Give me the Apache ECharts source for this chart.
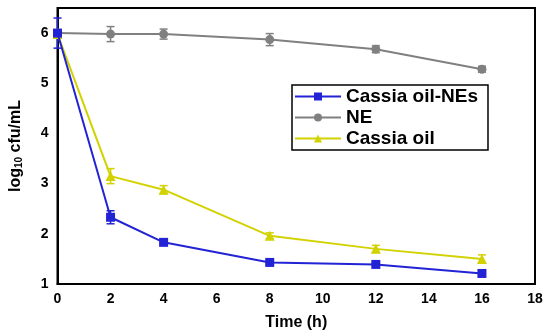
<!DOCTYPE html>
<html><head><meta charset="utf-8">
<script src="https://cdn.jsdelivr.net/npm/echarts@6/dist/echarts.min.js"></script>
<style>html,body{margin:0;padding:0;background:#fff}#c{width:550px;height:336px}</style>
</head><body><div id="c"></div>
<script>
const times = [0, 2, 4, 8, 12, 16];
const nesVals = [6.0, 2.33, 1.83, 1.43, 1.39, 1.21];
const nesErr = [0.3, 0.13, 0.04, 0.03, 0.03, 0.03];
const neVals = [6.0, 5.98, 5.98, 5.87, 5.68, 5.28];
const neErr = [0.05, 0.15, 0.1, 0.12, 0.07, 0.06];
const oilVals = [5.98, 3.15, 2.88, 1.96, 1.70, 1.50];
const oilErr = [0.05, 0.15, 0.08, 0.06, 0.07, 0.08];
const xTicks = [0, 2, 4, 6, 8, 10, 12, 14, 16, 18];
const yTicks = [1, 2, 3, 4, 5, 6];

const colors = {nes: '#2323d6', ne: '#808080', oil: '#d2d200'};

function pts(vals) { return times.map((t, i) => [t, vals[i]]); }
function errData(vals, errs) { return times.map((t, i) => [t, vals[i] - errs[i], vals[i] + errs[i]]); }
function errSeries(vals, errs, color) {
  return {
    type: 'custom', silent: true, z: 1,
    data: errData(vals, errs),
    renderItem: function (params, api) {
      const x = api.value(0);
      const lo = api.coord([x, api.value(1)]);
      const hi = api.coord([x, api.value(2)]);
      const w = 4;
      const st = {stroke: color, lineWidth: 1.5};
      return {type: 'group', children: [
        {type: 'line', shape: {x1: lo[0], y1: lo[1], x2: hi[0], y2: hi[1]}, style: st},
        {type: 'line', shape: {x1: lo[0] - w, y1: lo[1], x2: lo[0] + w, y2: lo[1]}, style: st},
        {type: 'line', shape: {x1: hi[0] - w, y1: hi[1], x2: hi[0] + w, y2: hi[1]}, style: st}
      ]};
    }
  };
}

const chart = echarts.init(document.getElementById('c'));
const FONT = 'Liberation Sans, Arial';
const axisLabel = {color: '#000', fontWeight: 'bold', fontSize: 14, fontFamily: FONT};
chart.setOption({
  animation: false,
  grid: {left: 57, right: 15, top: 8, bottom: 47, show: true, borderColor: '#000', borderWidth: 2, backgroundColor: '#fff'},
  legend: {
    data: ['Cassia oil-NEs', 'NE', 'Cassia oil'],
    orient: 'vertical', left: 292, top: 85,
    backgroundColor: '#fff', borderColor: '#000', borderWidth: 1.5, borderRadius: 0,
    padding: [2, 10, 2, 2], itemGap: 2, itemWidth: 46, itemHeight: 10,
    textStyle: {color: '#000', fontWeight: 'bold', fontSize: 19, fontFamily: FONT, lineHeight: 16}
  },
  xAxis: {
    type: 'value', min: 0, max: 18, interval: 2,
    axisLine: {lineStyle: {color: '#000', width: 2}},
    axisTick: {show: false}, splitLine: {show: false},
    axisLabel: Object.assign({margin: 8}, axisLabel),
    name: 'Time (h)', nameLocation: 'middle', nameGap: 31,
    nameTextStyle: {color: '#000', fontWeight: 'bold', fontSize: 16, fontFamily: FONT}
  },
  yAxis: {
    type: 'value', min: 1, max: 6.5, interval: 1,
    axisLine: {lineStyle: {color: '#000', width: 2}},
    axisTick: {show: false}, splitLine: {show: false},
    axisLabel: Object.assign({margin: 9, formatter: v => yTicks.includes(v) ? String(v) : ''}, axisLabel),
    name: '{a|log}{b|10}{a| cfu/mL}', nameLocation: 'middle', nameGap: 33, nameRotate: 90,
    nameTextStyle: {rich: {
      a: {color: '#000', fontWeight: 'bold', fontSize: 16, fontFamily: FONT},
      b: {color: '#000', fontWeight: 'bold', fontSize: 10, fontFamily: FONT, verticalAlign: 'bottom', padding: [7, 0, 0, 0]}
    }}
  },
  series: [
    errSeries(nesVals, nesErr, colors.nes),
    errSeries(neVals, neErr, colors.ne),
    errSeries(oilVals, oilErr, colors.oil),
    {name: 'Cassia oil-NEs', type: 'line', data: pts(nesVals), symbol: 'rect', symbolSize: 9, z: 3,
     itemStyle: {color: colors.nes}, lineStyle: {color: colors.nes, width: 2}},
    {name: 'NE', type: 'line', data: pts(neVals), symbol: 'circle', symbolSize: 9, z: 2,
     itemStyle: {color: colors.ne}, lineStyle: {color: colors.ne, width: 2}},
    {name: 'Cassia oil', type: 'line', data: pts(oilVals), symbol: 'triangle', symbolSize: 10, z: 2,
     itemStyle: {color: colors.oil}, lineStyle: {color: colors.oil, width: 2}}
  ]
});
</script></body></html>
